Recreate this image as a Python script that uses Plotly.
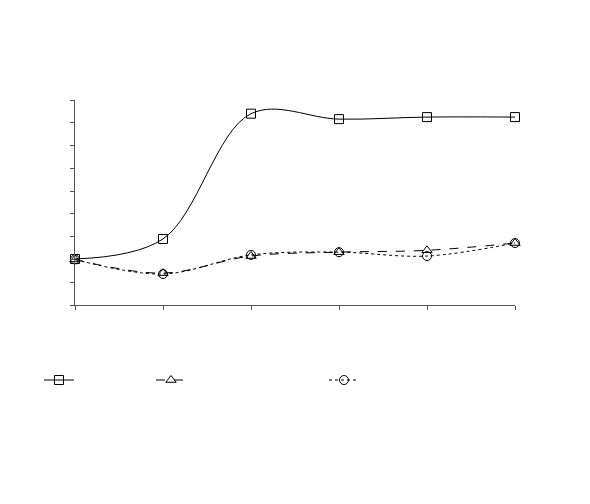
import plotly.graph_objects as go

x_vals = [0, 1, 2, 3, 4, 5]
series_a = [2.02, 2.9, 8.4, 8.16, 8.25, 8.25]
series_b = [2.0, 1.4, 2.15, 2.32, 2.4, 2.72]
series_c = [2.0, 1.36, 2.2, 2.32, 2.15, 2.72]

fig = go.Figure()

specs = [
    (series_a, "solid", "square-open", "legend"),
    (series_b, "dash", "triangle-up-open", "legend2"),
    (series_c, "dot", "circle-open", "legend3"),
]
for ys, dash, sym, lg in specs:
    fig.add_trace(go.Scatter(
        x=x_vals, y=ys, mode="lines+markers", name=" ", cliponaxis=False,
        line=dict(color="black", width=1, dash=dash, shape="spline", smoothing=1),
        marker=dict(symbol=sym, size=9, color="black", line=dict(width=1, color="black")),
        legend=lg, showlegend=True,
    ))

leg_common = dict(orientation="h", yanchor="middle", xanchor="left",
                  bgcolor="rgba(0,0,0,0)", font=dict(size=10), itemwidth=30)

fig.update_layout(
    width=590, height=504,
    margin=dict(l=67, r=83, t=92, b=207),
    plot_bgcolor="white", paper_bgcolor="white",
    showlegend=True,
    legend=dict(x=(39 - 75) / 440, y=-0.366, **leg_common),
    legend2=dict(x=(151 - 75) / 440, y=-0.366, **leg_common),
    legend3=dict(x=(324 - 75) / 440, y=-0.366, **leg_common),
    xaxis=dict(range=[0, 5], showgrid=False, zeroline=False, showline=True,
               linecolor="#555", linewidth=1, ticks="outside", ticklen=4,
               tickcolor="#555", tickvals=x_vals, showticklabels=False),
    yaxis=dict(range=[0, 9], showgrid=False, zeroline=False, showline=True,
               linecolor="#555", linewidth=1, ticks="outside", ticklen=4,
               tickcolor="#555", dtick=1, tick0=0, showticklabels=False),
)

fig.write_html("out.html")
